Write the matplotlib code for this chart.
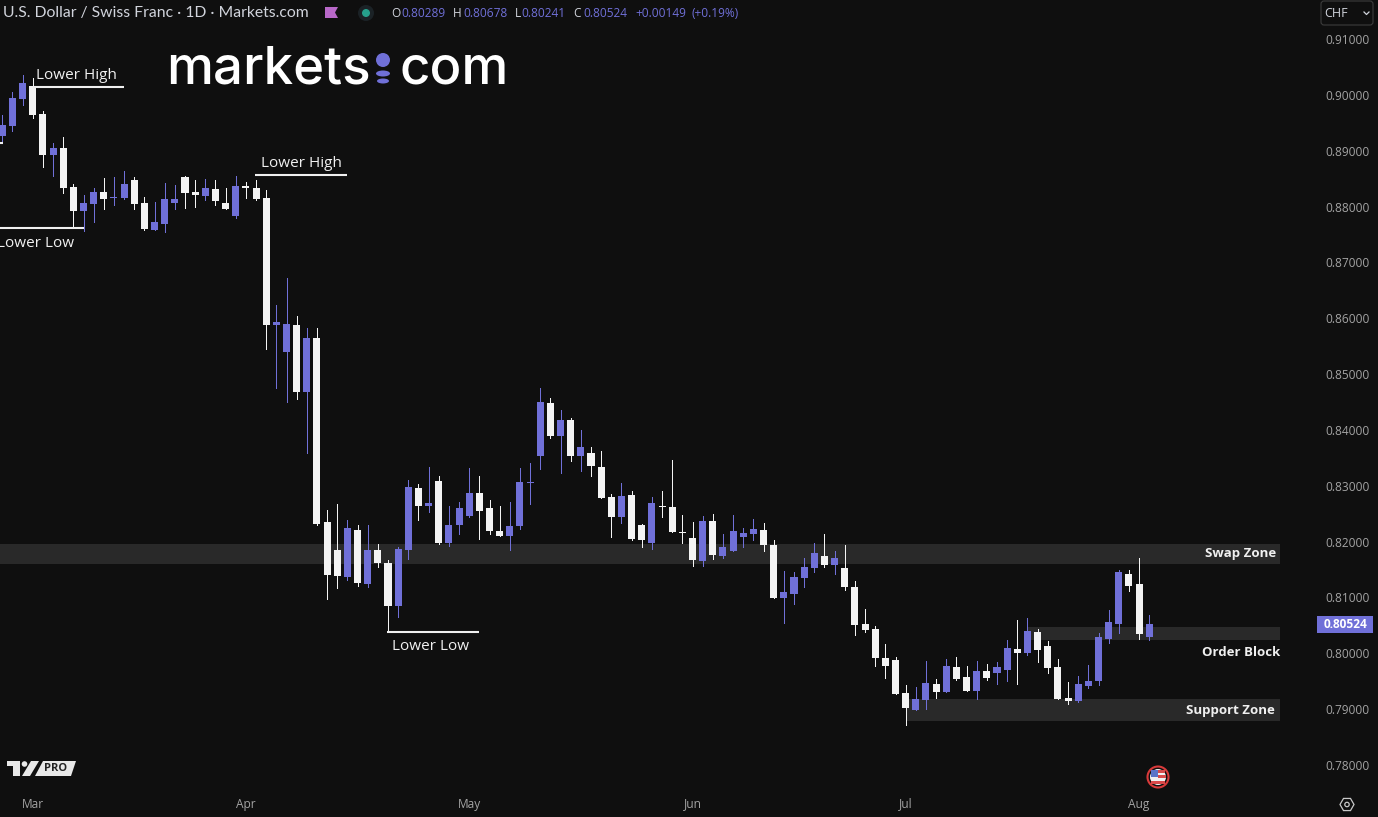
import numpy as np
import matplotlib
matplotlib.use('Agg')
import matplotlib.pyplot as plt
from matplotlib.patches import Rectangle, Circle, Ellipse, Polygon, FancyBboxPatch, RegularPolygon

# daily OHLC, one row per trading day
opens = [.89263, .89442, .89926, .90158, .89657, .88923, .89048, .88350, .87920, .88045,
         .88260, .88147, .88153, .88475, .88063, .87580, .87687, .88063, .88529, .88260,
         .88189, .88314, .88063, .87830, .88362, .88332, .88153, .85879, .85395, .85879,
         .84679, .85646, .82351, .81850, .81366, .82207, .81241, .81850, .81617, .80847,
         .81850, .82960, .82637, .83085, .81975, .82297, .82458, .82870, .82602, .82190,
         .82100, .82279, .83049, .83533, .84482, .83891, .84177, .83533, .83587, .83336,
         .82799, .82440, .82835, .82297, .81975, .82637, .82619, .82172, .82064, .81653,
         .82369, .81742, .81832, .82082, .82136, .82207, .81939, .80990, .81061, .81348,
         .81527, .81742, .81581, .81527, .81187, .80524, .80435, .79916, .79880, .79289,
         .78984, .79163, .79450, .79307, .79754, .79576, .79325, .79683, .79647, .79701,
         .80077, .80005, .80381, .80130, .79754, .79199, .79145, .79414, .79504, .80256,
         .80524, .81420, .81241, .80289]
highs = [.89639, .90051, .90355, .90302, .89711, .89138, .89245, .88403, .88207, .88332,
         .88511, .88529, .88636, .88529, .88171, .88081, .88421, .88386, .88540, .88475,
         .88493, .88475, .88332, .88547, .88439, .88475, .88296, .86237, .86720, .86040,
         .85825, .85825, .82566, .82673, .82387, .82297, .82297, .81957, .81670, .81903,
         .83103, .83031, .83336, .83175, .82637, .82709, .83318, .83175, .82745, .82637,
         .82709, .83318, .83407, .84750, .84571, .84357, .84213, .83998, .83694, .83622,
         .82852, .83049, .82906, .82315, .82799, .82906, .83461, .82476, .82351, .82458,
         .82494, .82136, .82476, .82243, .82405, .82333, .82028, .81473, .81455, .81706,
         .81975, .82136, .81832, .81939, .81294, .80793, .80488, .80166, .79934, .79432,
         .79396, .79862, .79540, .79898, .79934, .79772, .79862, .79808, .79844, .80238,
         .80596, .80632, .80435, .80220, .79898, .79486, .79593, .79790, .80363, .80775,
         .81491, .81491, .81706, .80678]
lows = [.89138, .89353, .89818, .89585, .88708, .88547, .88242, .87651, .87562, .87723,
        .87956, .88027, .88135, .87956, .87580, .87575, .87544, .87956, .87974, .87992,
        .88117, .88027, .87950, .87795, .88153, .88117, .85449, .84750, .84500, .84553,
        .83587, .82297, .80972, .81169, .81312, .81205, .81187, .81545, .80381, .80650,
        .81688, .82387, .82530, .81957, .81921, .82136, .82440, .82046, .82136, .82095,
        .81850, .82226, .82673, .83300, .83855, .83228, .83443, .83264, .83175, .82775,
        .82082, .82333, .82028, .81903, .81867, .82440, .82167, .81975, .81563, .81563,
        .81688, .81706, .81828, .81903, .82028, .81832, .80985, .80542, .80883, .81187,
        .81455, .81545, .81420, .81133, .80327, .80381, .79772, .79557, .79266, .78716,
        .78980, .79002, .79199, .79302, .79522, .79320, .79181, .79522, .79450, .79504,
        .79450, .79969, .79844, .79647, .79176, .79092, .79127, .79378, .79432, .80184,
        .80363, .81115, .80256, .80241]
closes = [.89460, .89943, .90212, .89639, .88923, .89048, .88332, .87920, .88063, .88260,
          .88135, .88165, .88403, .88045, .87598, .87723, .88135, .88135, .88242, .88207,
          .88332, .88099, .87956, .88368, .88332, .88135, .85879, .85932, .85897, .84679,
          .85646, .82315, .81402, .81384, .82243, .81259, .81850, .81617, .80847, .81867,
          .82978, .82637, .82691, .81975, .82297, .82602, .82870, .82548, .82190, .82100,
          .82279, .83067, .83067, .84500, .83891, .84177, .83533, .83694, .83354, .82781,
          .82440, .82817, .82046, .82028, .82691, .82619, .82172, .82154, .81670, .82369,
          .81760, .81903, .82190, .82154, .82226, .81939, .80990, .81097, .81366, .81545,
          .81796, .81581, .81706, .81187, .80506, .80417, .79916, .79772, .79271, .79020,
          .79181, .79468, .79307, .79772, .79540, .79325, .79683, .79557, .79754, .80095,
          .80005, .80399, .80059, .79736, .79181, .79145, .79450, .79504, .80292, .80560,
          .81455, .81205, .80345, .80524]

price_ticks = [.78, .79, .80, .81, .82, .83, .84, .85, .86, .87, .88, .89, .90, .91]
month_labels = ['Mar', 'Apr', 'May', 'Jun', 'Jul', 'Aug']
month_index = [3, 24, 46, 68, 89, 112]

# zones: low, high, first day, last day
swap_zone = (.81599, .81957, -1, 125.9)
order_block = (.80238, .80471, 101, 125.9)
support_zone = (.78787, .79181, 89.1, 125.9)
# swing lines: price, first day, last day
swing_lines = [(.90146, 3.0, 12.0), (.87617, -1.0, 8.0), (.88565, 24.9, 34.0),
               (.80381, 37.9, 47.0), (.89132, -1.0, 0.03)]

BG = '#0f0f0f'
PURPLE = '#7070d8'
WHITE = '#f4f4f4'
ZONE = '#292929'
FONT = ['Open Sans', 'DejaVu Sans']
plt.rcParams['font.family'] = FONT

W, H = 1378, 817
fig = plt.figure(figsize=(W / 100, H / 100), dpi=100, facecolor=BG)
ax = fig.add_axes([0, 0, 1, 1], facecolor=BG)

# axis limits put day 0 at x=2.3px, 10.15 px per day, and 5584.6 px per unit of price
PX_DAY = 10.15
PX_PRICE = 5584.6
ax.set_xlim(-2.3 / PX_DAY, (W - 2.3) / PX_DAY)
ax.set_ylim(.91 - (H - 39) / PX_PRICE, .91 + 39 / PX_PRICE)
for s in ax.spines.values():
    s.set_visible(False)

for low, high, x0, x1 in [swap_zone, order_block, support_zone]:
    ax.add_patch(Rectangle((x0, low), x1 - x0, high - low, fc=ZONE, ec='none', zorder=1))

days = np.arange(len(opens))
o, h, l, c = map(np.array, (opens, highs, lows, closes))
colors = [PURPLE if cc >= oo else WHITE for oo, cc in zip(o, c)]
ax.vlines(days, l, h, colors=colors, linewidth=0.72, antialiased=False, zorder=2)
body_low = np.minimum(o, c)
body_h = np.maximum(np.abs(c - o), 1.2 / PX_PRICE)
ax.bar(days, body_h, bottom=body_low, width=0.69, color=colors, linewidth=0, zorder=3)

for price, x0, x1 in swing_lines:
    ax.hlines(price, x0, x1, colors='#f0f0f0', linewidth=1.5, zorder=4)

ax.yaxis.tick_right()
ax.set_yticks(price_ticks)
ax.set_yticklabels([f'{p:.5f}' for p in price_ticks], color='#a3a3a3', fontsize=8.6)
ax.tick_params(axis='y', length=0, pad=-38)
ax.set_xticks(month_index)
ax.set_xticklabels(month_labels, color='#a3a3a3', fontsize=8.6)
ax.tick_params(axis='x', length=0, pad=-14)

# annotations live in the chart's own coordinates
ann = dict(color='#f0f0f0', fontsize=11, ha='center', va='center', zorder=5)
ax.text(7.35, .90350, 'Lower High', **ann)
ax.text(3.25, .87345, 'Lower Low', **ann)
ax.text(29.45, .88765, 'Lower High', **ann)
ax.text(42.15, .80115, 'Lower Low', **ann)
lab = dict(color='#f0f0f0', fontsize=9.5, fontweight='bold', ha='right', va='center', zorder=5)
ax.text(125.5, .81790, 'Swap Zone', **lab)
ax.text(125.9, .80020, 'Order Block', **lab)
ax.text(125.4, .78975, 'Support Zone', **lab)

# overlay in pixel coordinates for the platform furniture
ov = fig.add_axes([0, 0, 1, 1], facecolor='none')
ov.set_xlim(0, W)
ov.set_ylim(H, 0)
ov.axis('off')

ov.text(3, 13, 'U.S. Dollar / Swiss Franc · 1D · Markets.com', color='#d1d4dc', fontsize=11.3,
        family='Lato', va='center', ha='left')
ov.add_patch(Polygon([(325, 7), (338, 7), (335, 12.5), (338, 18), (325, 18)], fc='#b868c8', ec='none'))
ov.add_patch(Circle((366, 13), 8, fc='#1b2226', ec='none'))
ov.add_patch(Circle((366, 13), 4, fc='#26a08c', ec='none'))
header_bits = [(391, 'O', '#d1d4dc'), (401, '0.80289', PURPLE), (453, 'H', '#d1d4dc'), (463, '0.80678', PURPLE),
               (515, 'L', '#d1d4dc'), (521, '0.80241', PURPLE), (573, 'C', '#d1d4dc'), (583, '0.80524', PURPLE),
               (635, '+0.00149', PURPLE), (691, '(+0.19%)', PURPLE)]
for xp, t, col in header_bits:
    ov.text(xp, 13, t, color=col, fontsize=8.6, va='center', ha='left')

ov.text(166, 83, 'markets', color='white', fontsize=38, family='Inter', fontweight='medium', va='baseline', ha='left')
ov.text(399, 83, 'com', color='white', fontsize=38, family='Inter', fontweight='medium', va='baseline', ha='left')
ov.add_patch(Circle((383, 60), 7, fc=PURPLE, ec='none'))
ov.add_patch(Ellipse((383, 73.5), 14, 6, fc=PURPLE, ec='none'))
ov.add_patch(Ellipse((383, 81), 12, 5, fc=PURPLE, ec='none'))

# current price tag
ov.add_patch(Rectangle((1317, 616), 56, 17, fc=PURPLE, ec='none'))
ov.text(1345, 624.5, '0.80524', color='white', fontsize=8.6, fontweight='bold', ha='center', va='center')

# currency box
ov.add_patch(FancyBboxPatch((1321, 1), 52, 24, boxstyle='round,pad=0,rounding_size=3', fc=BG, ec='#3c3c3c', lw=0.8))
ov.text(1324, 13, 'CHF', color='#d1d4dc', fontsize=9, va='center', ha='left')
ov.plot([1364, 1366.5, 1369], [12, 14.5, 12], color='#d1d4dc', lw=0.9)

# TradingView PRO mark
ov.add_patch(Polygon([(7, 761), (20, 761), (20, 776), (13, 776), (13, 766), (7, 766)], fc='#e8e8e8', ec='none'))
ov.add_patch(Circle((24.5, 764), 2.8, fc='#e8e8e8', ec='none'))
ov.add_patch(Polygon([(31, 761), (39, 761), (30, 776), (22, 776)], fc='#e8e8e8', ec='none'))
ov.add_patch(Polygon([(43, 761), (76, 761), (71, 776), (35, 776)], fc='#e8e8e8', ec='none'))
ov.text(56, 768.5, 'PRO', color='#222222', fontsize=8, fontweight='bold', ha='center', va='center')

# US event flag
ov.add_patch(Circle((1158, 777), 10.5, fc='#0f0f0f', ec='#d83a3a', lw=1.5))
ov.add_patch(Circle((1158, 777), 8, fc='#f0f0f0', ec='none'))
ov.add_patch(Rectangle((1152, 770), 13, 2.5, fc='#d84a4a', ec='none'))
ov.add_patch(Rectangle((1158, 775), 8, 2.5, fc='#d84a4a', ec='none'))
ov.add_patch(Rectangle((1151, 781), 14, 2.5, fc='#d84a4a', ec='none'))
ov.add_patch(Rectangle((1151, 770), 7, 7, fc='#5a74c8', ec='none'))

# settings icon
ov.add_patch(RegularPolygon((1347, 804.5), 6, radius=7, orientation=np.pi / 6, fc='none', ec='#c8c8c8', lw=0.9))
ov.add_patch(Circle((1347, 804.5), 2.2, fc='none', ec='#c8c8c8', lw=0.9))

fig.savefig('out.png', dpi=100, facecolor=BG)
